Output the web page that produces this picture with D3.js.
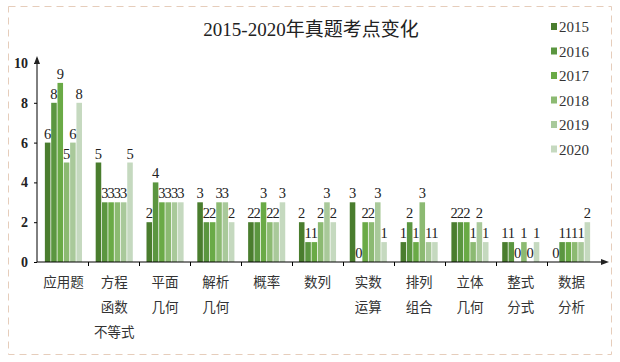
<!DOCTYPE html>
<html>
<head>
<meta charset="utf-8">
<script src="https://cdn.jsdelivr.net/npm/d3@7"></script>
<style>
  body { margin: 0; background: #fff; }
  text { fill: #222; }
</style>
</head>
<body>
<div id="chart"></div>
<script>
// data
const categories = ["应用题", "方程\n函数\n不等式", "平面\n几何", "解析\n几何", "概率", "数列",
  "实数\n运算", "排列\n组合", "立体\n几何", "整式\n分式", "数据\n分析"];
const years = ["2015", "2016", "2017", "2018", "2019", "2020"];
const y2015 = [6, 5, 2, 3, 2, 2, 3, 1, 2, 1, 0];
const y2016 = [8, 3, 4, 2, 2, 1, 0, 2, 2, 1, 1];
const y2017 = [9, 3, 3, 2, 3, 1, 2, 1, 2, 0, 1];
const y2018 = [5, 3, 3, 3, 2, 2, 2, 3, 1, 1, 1];
const y2019 = [6, 3, 3, 3, 2, 3, 3, 1, 2, 0, 1];
const y2020 = [8, 5, 3, 2, 3, 2, 1, 1, 1, 1, 2];
const yTicks = [0, 2, 4, 6, 8, 10];
const colors = ["#4a7d2e", "#5b9640", "#6aaa46", "#8cba72", "#a9c99a", "#c5d9bf"];

const series = [y2015, y2016, y2017, y2018, y2019, y2020];
const rows = categories.map((c, i) => ({cat: c, vals: series.map(s => s[i])}));

const width = 620, height = 362;
const svg = d3.select("#chart").append("svg")
  .attr("width", width).attr("height", height);

// dashed frame
svg.append("rect")
  .attr("x", 8.5).attr("y", 6.5).attr("width", 603).attr("height", 348)
  .attr("fill", "none").attr("stroke", "#e6cdbb").attr("stroke-dasharray", "7,5");

svg.append("text")
  .attr("x", 311).attr("y", 36).attr("text-anchor", "middle")
  .style("font-family", "'Liberation Serif', 'Noto Sans CJK SC'")
  .style("font-size", "19px")
  .text("2015-2020年真题考点变化");

const x0 = d3.scaleBand().domain(d3.range(categories.length)).range([37, 598]).paddingInner(0.24).paddingOuter(0.14);
const x1 = d3.scaleBand().domain(years).range([0, x0.bandwidth()]).padding(0.12);
const y = d3.scaleLinear().domain([0, 10]).range([262, 63]);

// bars
const groups = svg.selectAll(".grp").data(rows).enter().append("g")
  .attr("transform", (d, i) => `translate(${x0(i)},0)`);

groups.selectAll("rect").data(d => d.vals).enter().append("rect")
  .attr("x", (d, j) => x1(years[j]))
  .attr("width", x1.bandwidth())
  .attr("y", d => y(d))
  .attr("height", d => y(0) - y(d))
  .attr("fill", (d, j) => colors[j]);

groups.selectAll(".lbl").data(d => d.vals).enter().append("text")
  .attr("class", "lbl")
  .attr("x", (d, j) => x1(years[j]) + x1.bandwidth() / 2)
  .attr("y", d => y(d) - 4)
  .attr("text-anchor", "middle")
  .style("font-family", "'Liberation Serif'")
  .style("font-size", "14.5px")
  .text(d => d);

// axes
const yAxis = d3.axisLeft(y).tickValues(yTicks).tickSize(3).tickFormat(d3.format("d"));
const gy = svg.append("g").attr("transform", "translate(37,0)").call(yAxis);
gy.select(".domain").attr("d", "M0,262V58");
gy.selectAll("text")
  .style("font-family", "'Liberation Serif'").style("font-size", "14px").style("font-weight", "bold")
  .attr("x", -9);

const xAxis = d3.axisBottom(d3.scaleLinear().domain([0, categories.length]).range([37, 598]))
  .tickValues(d3.range(1, categories.length)).tickSize(3).tickFormat("");
const gx = svg.append("g").attr("transform", "translate(0,262)").call(xAxis);
gx.select(".domain").attr("d", "M37,0H604");
gx.selectAll(".tick line").attr("y1", 0).attr("y2", 4);

// arrow heads
svg.append("path").attr("d", "M37,56L34,64L40,64Z").attr("fill", "#222");
svg.append("path").attr("d", "M609,262L601,259L601,265Z").attr("fill", "#222");

// category labels
categories.forEach((c, i) => {
  const cx = x0(i) + x0.bandwidth() / 2;
  c.split("\n").forEach((line, k) => {
    svg.append("text")
      .attr("x", cx).attr("y", 287 + k * 25)
      .attr("text-anchor", "middle")
      .style("font-family", "'Noto Sans CJK SC'")
      .style("font-size", "13.5px")
      .style("fill", "#333")
      .text(line);
  });
});

// legend
const leg = svg.selectAll(".leg").data(years).enter().append("g")
  .attr("transform", (d, i) => `translate(551,${27 + i * 24.5})`);
leg.append("rect").attr("x", 0).attr("y", -4).attr("width", 6).attr("height", 7)
  .attr("fill", (d, i) => colors[i]);
leg.append("text").attr("x", 8).attr("y", 5)
  .style("font-family", "'Liberation Serif'").style("font-size", "15px")
  .style("fill", "#333")
  .text(d => d);
</script>
</body>
</html>
